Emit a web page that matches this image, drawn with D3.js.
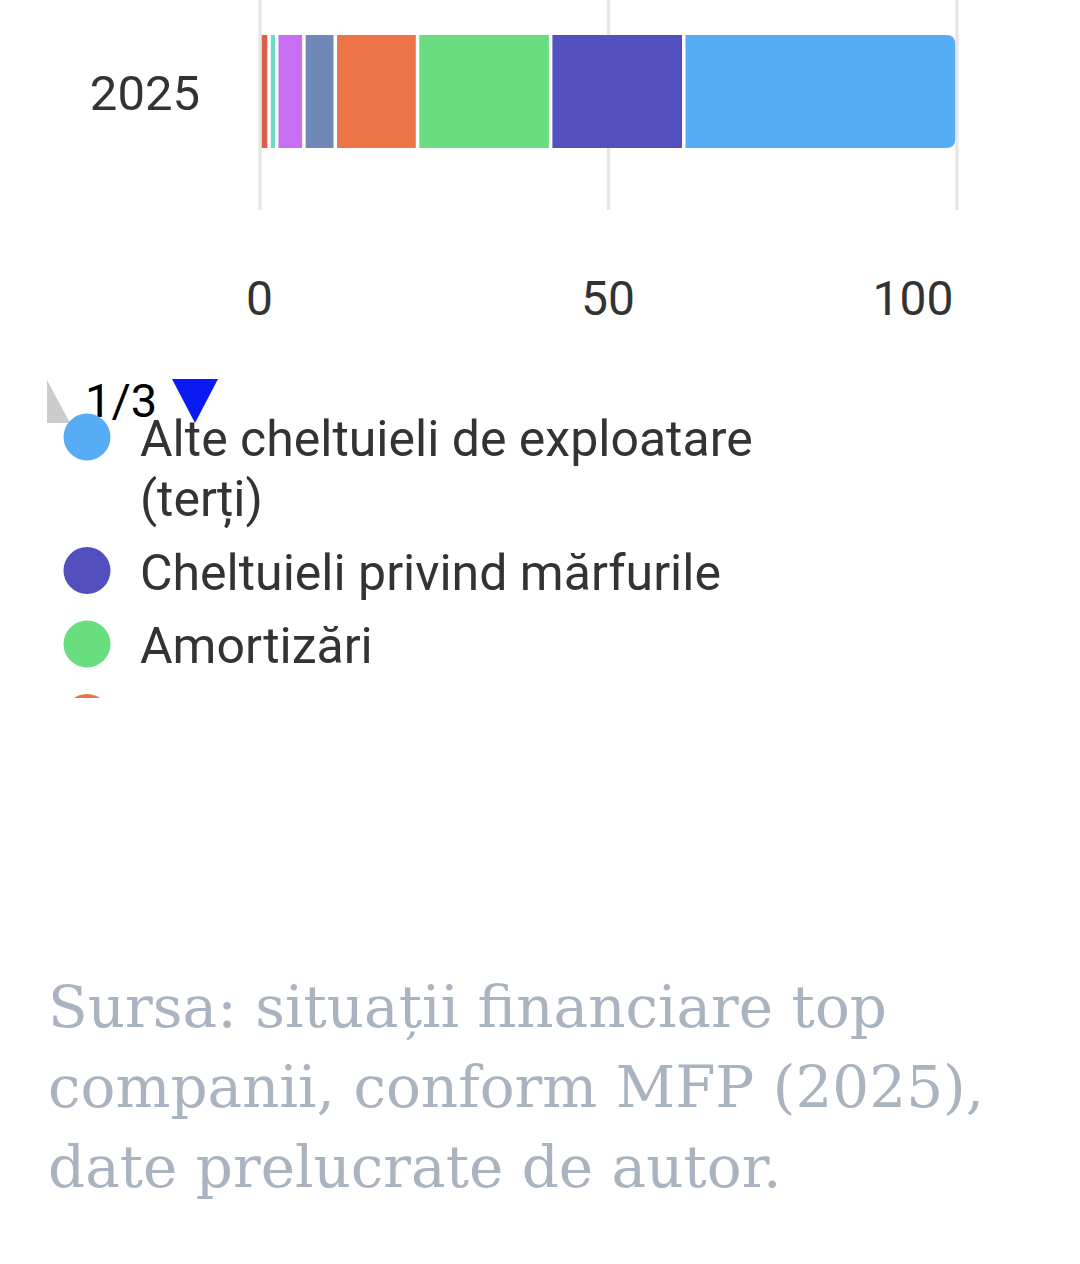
<!DOCTYPE html>
<html>
<head>
<meta charset="utf-8">
<script src="https://cdn.jsdelivr.net/npm/d3@7"></script>
<style>
  html, body { margin: 0; padding: 0; background: #fff; }
  svg { display: block; }
</style>
</head>
<body>
<div id="chart"></div>
<script>
// series in legend order (first one sits at the right end of the bar)
const years = ["2025"];
const seriesNames = [
  "Alte cheltuieli de exploatare (terți)",
  "Cheltuieli privind mărfurile",
  "Amortizări",
  "Cheltuieli cu personalul",
  "Cheltuieli cu materiile prime",
  "Cheltuieli cu materialele consumabile",
  "Cheltuieli cu energia și apa",
  "Alte cheltuieli materiale"
];
const seriesValues = [39.2, 19.1, 19.1, 11.8, 4.5, 3.9, 1.1, 1.3];
const seriesColors = ["#56adf6", "#5250be", "#68de7f", "#ed7447", "#6e89b8", "#c66ff0", "#6ddbc5", "#dc5e4b"];
const xTicks = [0, 50, 100];
const sourceText = "Sursa: situații financiare top companii, conform MFP (2025), date prelucrate de autor.";

const W = 1080, H = 1264;
const svg = d3.select("#chart").append("svg")
  .attr("width", W)
  .attr("height", H);

const x = d3.scaleLinear().domain([0, 100]).range([260, 957]);
const y = d3.scaleBand().domain(years).range([35, 148]);

// gridlines
svg.append("g")
  .selectAll("line")
  .data(xTicks)
  .enter().append("line")
  .attr("x1", d => x(d)).attr("x2", d => x(d))
  .attr("y1", 0).attr("y2", 210)
  .attr("stroke", "#e6e6e6")
  .attr("stroke-width", 3.3);

// stacked bar, drawn from the last series outwards
const table = years.map(yr => {
  const row = { year: yr };
  seriesNames.forEach((n, i) => { row[n] = seriesValues[i]; });
  return row;
});
const stack = d3.stack().keys(seriesNames.slice().reverse());
const layers = stack(table);
const gap = 1.75;

layers.forEach(layer => {
  const color = seriesColors[seriesNames.indexOf(layer.key)];
  const isLast = layer.key === seriesNames[0];
  layer.forEach(d => {
    const x0 = x(d[0]) + gap, x1 = x(d[1]) - gap;
    const y0 = y(d.data.year), h = y.bandwidth();
    if (isLast) {
      const r = 9;
      svg.append("path")
        .attr("d", `M${x0},${y0}H${x1 - r}Q${x1},${y0} ${x1},${y0 + r}V${y0 + h - r}Q${x1},${y0 + h} ${x1 - r},${y0 + h}H${x0}Z`)
        .attr("fill", color);
    } else {
      svg.append("rect")
        .attr("x", x0).attr("y", y0)
        .attr("width", Math.max(0, x1 - x0)).attr("height", h)
        .attr("fill", color);
    }
  });
});

// category axis
const yAxis = svg.append("g")
  .attr("transform", "translate(200,0)")
  .call(d3.axisLeft(y).tickSize(0).tickPadding(0));
yAxis.select(".domain").remove();
yAxis.selectAll("text")
  .attr("dy", "18.5px")
  .style("font-family", "Roboto, sans-serif")
  .style("font-size", "49px")
  .attr("fill", "#333");

// value axis
const xAxis = svg.append("g")
  .attr("transform", "translate(0,315)")
  .call(d3.axisBottom(x).tickValues(xTicks).tickSize(0).tickPadding(0));
xAxis.select(".domain").remove();
xAxis.selectAll("text")
  .attr("y", 0).attr("dy", 0)
  .style("font-family", "Roboto, sans-serif")
  .style("font-size", "48px")
  .attr("fill", "#333")
  .attr("text-anchor", d => d === 100 ? "end" : "middle")
  .attr("x", d => d === 100 ? -4 : -1);

// legend navigation
svg.append("path")
  .attr("d", "M47,380L70,423L47,423Z")
  .attr("fill", "#cccccc");
svg.append("text")
  .attr("x", 85).attr("y", 417)
  .style("font-family", "Roboto, sans-serif")
  .style("font-size", "47px")
  .attr("fill", "#000")
  .text("1/3");
svg.append("path")
  .attr("d", "M172,379L218,379L195,423Z")
  .attr("fill", "#0b1af0");

// legend items, clipped to the first page
svg.append("clipPath").attr("id", "legendClip")
  .append("rect").attr("x", 0).attr("y", 360).attr("width", W).attr("height", 338);
const legend = svg.append("g").attr("clip-path", "url(#legendClip)");

const lineH = 60, itemGap = 73.5, maxW = 650;
let cy = 437;
seriesNames.forEach((name, i) => {
  const item = legend.append("g");
  item.append("circle")
    .attr("cx", 87).attr("cy", cy).attr("r", 23.5)
    .attr("fill", seriesColors[i]);
  const txt = item.append("text")
    .attr("x", 140).attr("y", cy + 19)
    .style("font-family", "Roboto, sans-serif")
    .style("font-size", "50px")
    .attr("fill", "#333");
  // simple word wrap
  const words = name.split(" ");
  let line = [], n = 0;
  let tspan = txt.append("tspan").attr("x", 140).attr("dy", 0);
  words.forEach(w => {
    line.push(w);
    tspan.text(line.join(" "));
    if (tspan.node().getComputedTextLength() > maxW && line.length > 1) {
      line.pop();
      tspan.text(line.join(" "));
      line = [w];
      n++;
      tspan = txt.append("tspan").attr("x", 140).attr("dy", lineH).text(w);
    }
  });
  cy += itemGap + n * lineH;
});

// source note, one text per line
const srcStyle = t => t
  .attr("x", 48)
  .style("font-family", "'DejaVu Serif', serif")
  .style("font-size", "58px")
  .attr("fill", "#aab4c0");
{
  const words = sourceText.split(" ");
  let line = [], row = 0;
  let t = svg.append("text").call(srcStyle).attr("y", 1027);
  words.forEach(w => {
    line.push(w);
    t.text(line.join(" "));
    if (t.node().getComputedTextLength() > 950 && line.length > 1) {
      line.pop();
      t.text(line.join(" "));
      line = [w];
      row++;
      t = svg.append("text").call(srcStyle).attr("y", 1027 + row * 80).text(w);
    }
  });
}
</script>
</body>
</html>
